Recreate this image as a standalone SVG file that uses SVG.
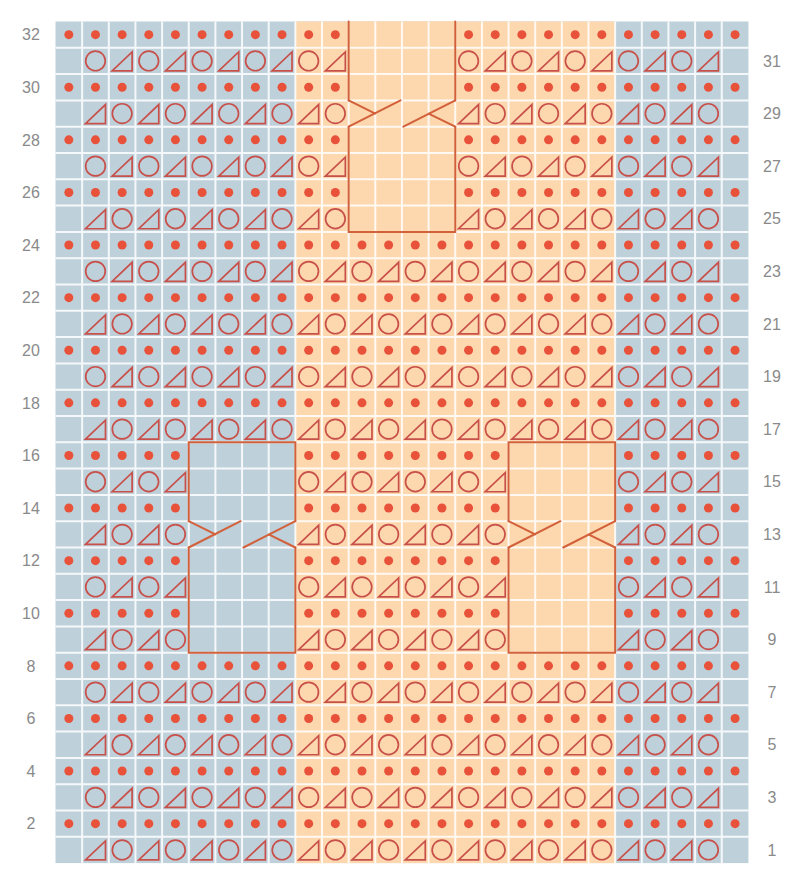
<svg xmlns="http://www.w3.org/2000/svg" xmlns:xlink="http://www.w3.org/1999/xlink" width="800" height="882" viewBox="0 0 800 882">
<style>
.bg{fill:#ffffff}
.blue{fill:#bed0da}
.orange{fill:#fdd7ad}
.d{fill:#e8523a}
.o{fill:none;stroke:#c8504a;stroke-width:1.7}
.grid{fill:none;stroke:#ffffff;stroke-width:2;opacity:0.85}
.cable{fill:none;stroke:#d2603a;stroke-width:2;stroke-linecap:round}
.lbl{font-family:"Liberation Sans","DejaVu Sans",sans-serif;font-size:16px;fill:#8a8a8a;text-anchor:middle}
</style>
<defs>
<path id="t" class="o" d="M-10,10 H10 V-9 Z"/>
<g id="dots">
<circle class="d" cx="68.83" cy="0" r="4.5"/><circle class="d" cx="95.48" cy="0" r="4.5"/><circle class="d" cx="122.13" cy="0" r="4.5"/><circle class="d" cx="148.78" cy="0" r="4.5"/><circle class="d" cx="175.43" cy="0" r="4.5"/><circle class="d" cx="202.08" cy="0" r="4.5"/><circle class="d" cx="228.73" cy="0" r="4.5"/><circle class="d" cx="255.38" cy="0" r="4.5"/><circle class="d" cx="282.03" cy="0" r="4.5"/><circle class="d" cx="308.68" cy="0" r="4.5"/><circle class="d" cx="335.33" cy="0" r="4.5"/><circle class="d" cx="361.98" cy="0" r="4.5"/><circle class="d" cx="388.63" cy="0" r="4.5"/><circle class="d" cx="415.28" cy="0" r="4.5"/><circle class="d" cx="441.93" cy="0" r="4.5"/><circle class="d" cx="468.58" cy="0" r="4.5"/><circle class="d" cx="495.23" cy="0" r="4.5"/><circle class="d" cx="521.88" cy="0" r="4.5"/><circle class="d" cx="548.53" cy="0" r="4.5"/><circle class="d" cx="575.18" cy="0" r="4.5"/><circle class="d" cx="601.83" cy="0" r="4.5"/><circle class="d" cx="628.48" cy="0" r="4.5"/><circle class="d" cx="655.13" cy="0" r="4.5"/><circle class="d" cx="681.78" cy="0" r="4.5"/><circle class="d" cx="708.43" cy="0" r="4.5"/><circle class="d" cx="735.08" cy="0" r="4.5"/>
</g>
<g id="rowA">
<circle class="o" cx="95.48" cy="0" r="9.8"/><circle class="o" cx="148.78" cy="0" r="9.8"/><circle class="o" cx="202.08" cy="0" r="9.8"/><circle class="o" cx="255.38" cy="0" r="9.8"/><circle class="o" cx="308.68" cy="0" r="9.8"/><circle class="o" cx="361.98" cy="0" r="9.8"/><circle class="o" cx="415.28" cy="0" r="9.8"/><circle class="o" cx="468.58" cy="0" r="9.8"/><circle class="o" cx="521.88" cy="0" r="9.8"/><circle class="o" cx="575.18" cy="0" r="9.8"/><circle class="o" cx="628.48" cy="0" r="9.8"/><circle class="o" cx="681.78" cy="0" r="9.8"/>
<use href="#t" x="122.13" y="0"/><use href="#t" x="175.43" y="0"/><use href="#t" x="228.73" y="0"/><use href="#t" x="282.03" y="0"/><use href="#t" x="335.33" y="0"/><use href="#t" x="388.63" y="0"/><use href="#t" x="441.93" y="0"/><use href="#t" x="495.23" y="0"/><use href="#t" x="548.53" y="0"/><use href="#t" x="601.83" y="0"/><use href="#t" x="655.13" y="0"/><use href="#t" x="708.43" y="0"/>
</g>
<g id="rowB">
<use href="#t" x="95.48" y="0"/><use href="#t" x="148.78" y="0"/><use href="#t" x="202.08" y="0"/><use href="#t" x="255.38" y="0"/><use href="#t" x="308.68" y="0"/><use href="#t" x="361.98" y="0"/><use href="#t" x="415.28" y="0"/><use href="#t" x="468.58" y="0"/><use href="#t" x="521.88" y="0"/><use href="#t" x="575.18" y="0"/><use href="#t" x="628.48" y="0"/><use href="#t" x="681.78" y="0"/>
<circle class="o" cx="122.13" cy="0" r="9.8"/><circle class="o" cx="175.43" cy="0" r="9.8"/><circle class="o" cx="228.73" cy="0" r="9.8"/><circle class="o" cx="282.03" cy="0" r="9.8"/><circle class="o" cx="335.33" cy="0" r="9.8"/><circle class="o" cx="388.63" cy="0" r="9.8"/><circle class="o" cx="441.93" cy="0" r="9.8"/><circle class="o" cx="495.23" cy="0" r="9.8"/><circle class="o" cx="548.53" cy="0" r="9.8"/><circle class="o" cx="601.83" cy="0" r="9.8"/><circle class="o" cx="655.13" cy="0" r="9.8"/><circle class="o" cx="708.43" cy="0" r="9.8"/>
</g>
</defs>
<rect class="bg" x="0" y="0" width="800" height="882"/>
<g id="bands">
<rect class="blue" x="55.5" y="21.5" width="692.9" height="841.6"/>
<rect class="orange" x="295.35" y="21.5" width="319.8" height="841.6"/>
</g>
<g id="stitches">
<use href="#dots" y="34.65"/>
<use href="#rowA" y="60.95"/>
<use href="#dots" y="87.25"/>
<use href="#rowB" y="113.55"/>
<use href="#dots" y="139.85"/>
<use href="#rowA" y="166.15"/>
<use href="#dots" y="192.45"/>
<use href="#rowB" y="218.75"/>
<use href="#dots" y="245.05"/>
<use href="#rowA" y="271.35"/>
<use href="#dots" y="297.65"/>
<use href="#rowB" y="323.95"/>
<use href="#dots" y="350.25"/>
<use href="#rowA" y="376.55"/>
<use href="#dots" y="402.85"/>
<use href="#rowB" y="429.15"/>
<use href="#dots" y="455.45"/>
<use href="#rowA" y="481.75"/>
<use href="#dots" y="508.05"/>
<use href="#rowB" y="534.35"/>
<use href="#dots" y="560.65"/>
<use href="#rowA" y="586.95"/>
<use href="#dots" y="613.25"/>
<use href="#rowB" y="639.55"/>
<use href="#dots" y="665.85"/>
<use href="#rowA" y="692.15"/>
<use href="#dots" y="718.45"/>
<use href="#rowB" y="744.75"/>
<use href="#dots" y="771.05"/>
<use href="#rowA" y="797.35"/>
<use href="#dots" y="823.65"/>
<use href="#rowB" y="849.95"/>
</g>
<g id="cable-fills">
<rect class="orange" x="348.65" y="21.5" width="106.6" height="210.4"/>
<rect class="blue" x="188.75" y="442.3" width="106.6" height="210.4"/>
<rect class="orange" x="508.55" y="442.3" width="106.6" height="210.4"/>
</g>
<path id="grid" class="grid" d="M82.15 21.5V863.1M108.8 21.5V863.1M135.45 21.5V863.1M162.1 21.5V863.1M188.75 21.5V863.1M215.4 21.5V863.1M242.05 21.5V863.1M268.7 21.5V863.1M295.35 21.5V863.1M322 21.5V863.1M348.65 21.5V863.1M375.3 21.5V863.1M401.95 21.5V863.1M428.6 21.5V863.1M455.25 21.5V863.1M481.9 21.5V863.1M508.55 21.5V863.1M535.2 21.5V863.1M561.85 21.5V863.1M588.5 21.5V863.1M615.15 21.5V863.1M641.8 21.5V863.1M668.45 21.5V863.1M695.1 21.5V863.1M721.75 21.5V863.1M55.5 47.8H748.4M55.5 74.1H748.4M55.5 100.4H748.4M55.5 126.7H748.4M55.5 153H748.4M55.5 179.3H748.4M55.5 205.6H748.4M55.5 231.9H748.4M55.5 258.2H748.4M55.5 284.5H748.4M55.5 310.8H748.4M55.5 337.1H748.4M55.5 363.4H748.4M55.5 389.7H748.4M55.5 416H748.4M55.5 442.3H748.4M55.5 468.6H748.4M55.5 494.9H748.4M55.5 521.2H748.4M55.5 547.5H748.4M55.5 573.8H748.4M55.5 600.1H748.4M55.5 626.4H748.4M55.5 652.7H748.4M55.5 679H748.4M55.5 705.3H748.4M55.5 731.6H748.4M55.5 757.9H748.4M55.5 784.2H748.4M55.5 810.5H748.4M55.5 836.8H748.4"/>
<g id="cables">
<g id="cable-top">
<path class="cable" d="M348.65 21.5V100.4M348.65 126.7V231.9H455.25V126.7M455.25 100.4V21.5"/>
<path class="cable" d="M348.65 126.7L400.5 100.4M348.65 100.4L375.3 113.55M403.4 126.7L455.25 100.4M428.6 113.55L455.25 126.7"/>
</g>
<g id="cable-left">
<path class="cable" d="M188.75 521.2V442.3H295.35V521.2M188.75 547.5V652.7H295.35V547.5"/>
<path class="cable" d="M188.75 547.5L240.6 521.2M188.75 521.2L215.4 534.35M243.5 547.5L295.35 521.2M268.7 534.35L295.35 547.5"/>
</g>
<g id="cable-right">
<path class="cable" d="M508.55 521.2V442.3H615.15V521.2M508.55 547.5V652.7H615.15V547.5"/>
<path class="cable" d="M508.55 547.5L560.4 521.2M508.55 521.2L535.2 534.35M563.3 547.5L615.15 521.2M588.5 534.35L615.15 547.5"/>
</g>
</g>
<g id="labels-left">
<text class="lbl" x="31" y="40.3">32</text>
<text class="lbl" x="31" y="92.9">30</text>
<text class="lbl" x="31" y="145.5">28</text>
<text class="lbl" x="31" y="198.1">26</text>
<text class="lbl" x="31" y="250.7">24</text>
<text class="lbl" x="31" y="303.3">22</text>
<text class="lbl" x="31" y="355.9">20</text>
<text class="lbl" x="31" y="408.5">18</text>
<text class="lbl" x="31" y="461.1">16</text>
<text class="lbl" x="31" y="513.7">14</text>
<text class="lbl" x="31" y="566.3">12</text>
<text class="lbl" x="31" y="618.9">10</text>
<text class="lbl" x="31" y="671.5">8</text>
<text class="lbl" x="31" y="724.1">6</text>
<text class="lbl" x="31" y="776.7">4</text>
<text class="lbl" x="31" y="829.3">2</text>
</g>
<g id="labels-right">
<text class="lbl" x="772" y="66.6">31</text>
<text class="lbl" x="772" y="119.2">29</text>
<text class="lbl" x="772" y="171.8">27</text>
<text class="lbl" x="772" y="224.4">25</text>
<text class="lbl" x="772" y="277">23</text>
<text class="lbl" x="772" y="329.6">21</text>
<text class="lbl" x="772" y="382.2">19</text>
<text class="lbl" x="772" y="434.8">17</text>
<text class="lbl" x="772" y="487.4">15</text>
<text class="lbl" x="772" y="540">13</text>
<text class="lbl" x="772" y="592.6">11</text>
<text class="lbl" x="772" y="645.2">9</text>
<text class="lbl" x="772" y="697.8">7</text>
<text class="lbl" x="772" y="750.4">5</text>
<text class="lbl" x="772" y="803">3</text>
<text class="lbl" x="772" y="855.6">1</text>
</g>
</svg>
